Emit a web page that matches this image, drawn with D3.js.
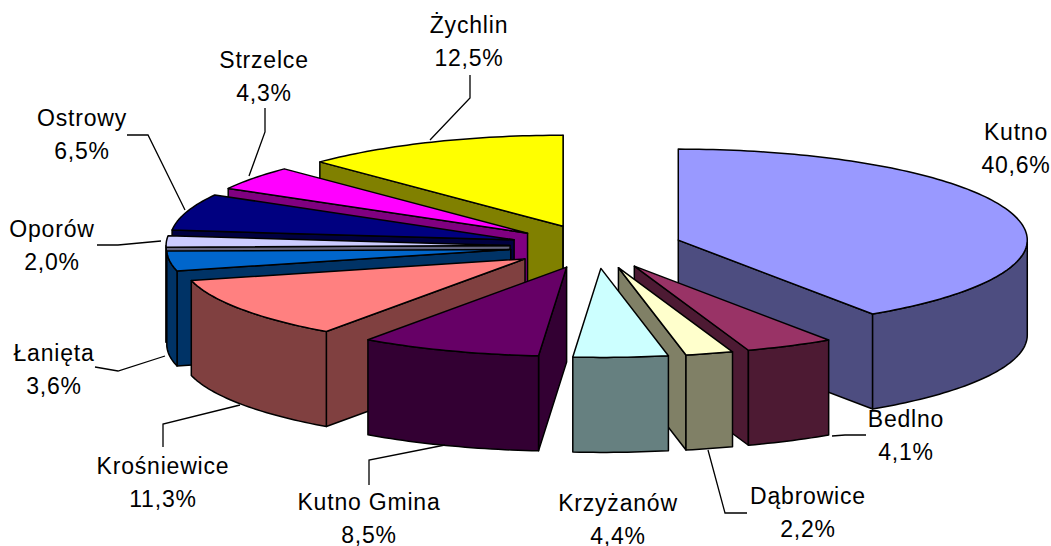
<!DOCTYPE html>
<html>
<head>
<meta charset="utf-8">
<script src="https://cdn.jsdelivr.net/npm/d3@7"></script>
<style>
    html, body { margin: 0; padding: 0; background: #fff; }
    svg { display: block; }
    text { font-family: "Liberation Sans", Arial, sans-serif; font-size: 23px; letter-spacing: 0.8px; fill: #000; }
</style>
</head>
<body>
<svg width="1051" height="546"></svg>
<script>
const names = ["Kutno", "Bedlno", "Dąbrowice", "Krzyżanów", "Kutno Gmina", "Krośniewice",
    "Łanięta", "Oporów", "Ostrowy", "Strzelce", "Żychlin"];
const shares = [40.6, 4.1, 2.2, 4.4, 8.5, 11.3, 3.6, 2.0, 6.5, 4.3, 12.5];
const topColors = ["#9999ff", "#993366", "#ffffcc", "#ccffff", "#660066", "#ff8080",
    "#0066cc", "#ccccff", "#000080", "#ff00ff", "#ffff00"];
const sideColors = ["#4d4d80", "#4d1a33", "#808066", "#668080", "#330033", "#804040",
    "#003366", "#666680", "#000040", "#800080", "#808000"];

const width = 1051, height = 546;
const svg = d3.select("svg");

// Pie geometry. The original has a little perspective,
// so the ellipse is not quite symmetric.
const cx = 596, cy = 246.5;
const rxRight = 349, rxLeft = 344;
const ryFront = 89, ryBack = 91;
const explode = 86;
const depth = 95;

// Label baselines and leader lines, placed by hand like the original
const labelPos = {
    "Kutno": [1016, 140],
    "Bedlno": [906, 427],
    "Dąbrowice": [808, 504],
    "Krzyżanów": [618, 511],
    "Kutno Gmina": [369, 510],
    "Krośniewice": [163, 474],
    "Łanięta": [54, 361],
    "Oporów": [52, 237],
    "Ostrowy": [82, 126],
    "Strzelce": [264, 68],
    "Żychlin": [469, 33]
};
const lineGap = 32.5;
const leaders = [
    [[470, 75], [470, 98], [430, 140]],
    [[265, 108], [265, 132], [249, 176]],
    [[127, 135], [148, 135], [185, 210]],
    [[97, 245], [118, 245], [161, 241]],
    [[95, 367], [118, 371], [165, 356]],
    [[163, 447], [163, 424], [240, 405]],
    [[369, 485], [369, 460], [445, 445]],
    [[708, 450], [725, 513], [747, 513]],
    [[832, 436], [845, 435], [866, 435]]
];

const pct = d3.formatLocale({ decimal: ",", thousands: " ", grouping: [3], currency: ["", ""] }).format(".1f");

// d3.pie angles run clockwise from 12 o'clock, same as the chart
const arcs = d3.pie().sort(null).value(d => d)(shares);
const line = d3.line();

// screen point on the ellipse around an exploded apex
function rimPoint(apex, a, dz) {
    const s = Math.sin(a), c = Math.cos(a);
    return [apex[0] + (s < 0 ? rxLeft : rxRight) * s,
            apex[1] - (c > 0 ? ryBack : ryFront) * c + (dz || 0)];
}

function rimPoints(apex, a0, a1, dz) {
    const n = Math.max(2, Math.ceil((a1 - a0) / 0.02));
    return d3.range(n + 1).map(i => rimPoint(apex, a0 + (a1 - a0) * i / n, dz));
}

const slices = arcs.map((d, i) => {
    const mid = (d.startAngle + d.endAngle) / 2;
    return {
        name: names[i],
        top: topColors[i],
        side: sideColors[i],
        a0: d.startAngle,
        a1: d.endAngle,
        mid: mid,
        apex: [cx + explode * Math.sin(mid), cy - explode * ryFront / rxRight * Math.cos(mid)]
    };
});

// Painter's order: slices furthest from the 6 o'clock position first
slices.sort((p, q) => Math.abs(q.mid - Math.PI) - Math.abs(p.mid - Math.PI));

const sliceG = svg.selectAll(".slice")
    .data(slices)
    .join("g")
    .attr("class", "slice")
    .attr("stroke", "#000")
    .attr("stroke-width", 1.5)
    .attr("stroke-linejoin", "round");

sliceG.each(function (s) {
    const g = d3.select(this);
    const wall = (a) => {
        const p = rimPoint(s.apex, a);
        const q = rimPoint(s.apex, a, depth);
        const b = [s.apex[0], s.apex[1] + depth];
        return line([s.apex, p, q, b]) + "Z";
    };

    // radial walls, only when they face the viewer
    if (Math.cos(s.a0 - Math.PI / 2) < 0) {
        g.append("path").attr("d", wall(s.a0)).attr("fill", s.side);
    }
    if (Math.cos(s.a1 + Math.PI / 2) < 0) {
        g.append("path").attr("d", wall(s.a1)).attr("fill", s.side);
    }

    // outer wall, front half of the ellipse only
    const f0 = Math.max(s.a0, Math.PI / 2), f1 = Math.min(s.a1, 3 * Math.PI / 2);
    if (f1 > f0) {
        const upper = rimPoints(s.apex, f0, f1);
        const lower = rimPoints(s.apex, f0, f1, depth).reverse();
        g.append("path").attr("d", line(upper.concat(lower)) + "Z").attr("fill", s.side);
    }

    // top face
    g.append("path")
        .attr("d", line([s.apex].concat(rimPoints(s.apex, s.a0, s.a1))) + "Z")
        .attr("fill", s.top);
});

// Leader lines
svg.selectAll(".leader")
    .data(leaders)
    .join("path")
    .attr("class", "leader")
    .attr("d", d => line(d))
    .attr("fill", "none")
    .attr("stroke", "#000")
    .attr("stroke-width", 1.3);

// Labels
const labels = svg.selectAll(".label")
    .data(names)
    .join("text")
    .attr("class", "label")
    .attr("text-anchor", "middle");

labels.append("tspan")
    .attr("x", d => labelPos[d][0])
    .attr("y", d => labelPos[d][1])
    .text(d => d);

labels.append("tspan")
    .attr("x", d => labelPos[d][0])
    .attr("y", d => labelPos[d][1] + lineGap)
    .text((d, i) => pct(shares[i]) + "%");
</script>
</body>
</html>
